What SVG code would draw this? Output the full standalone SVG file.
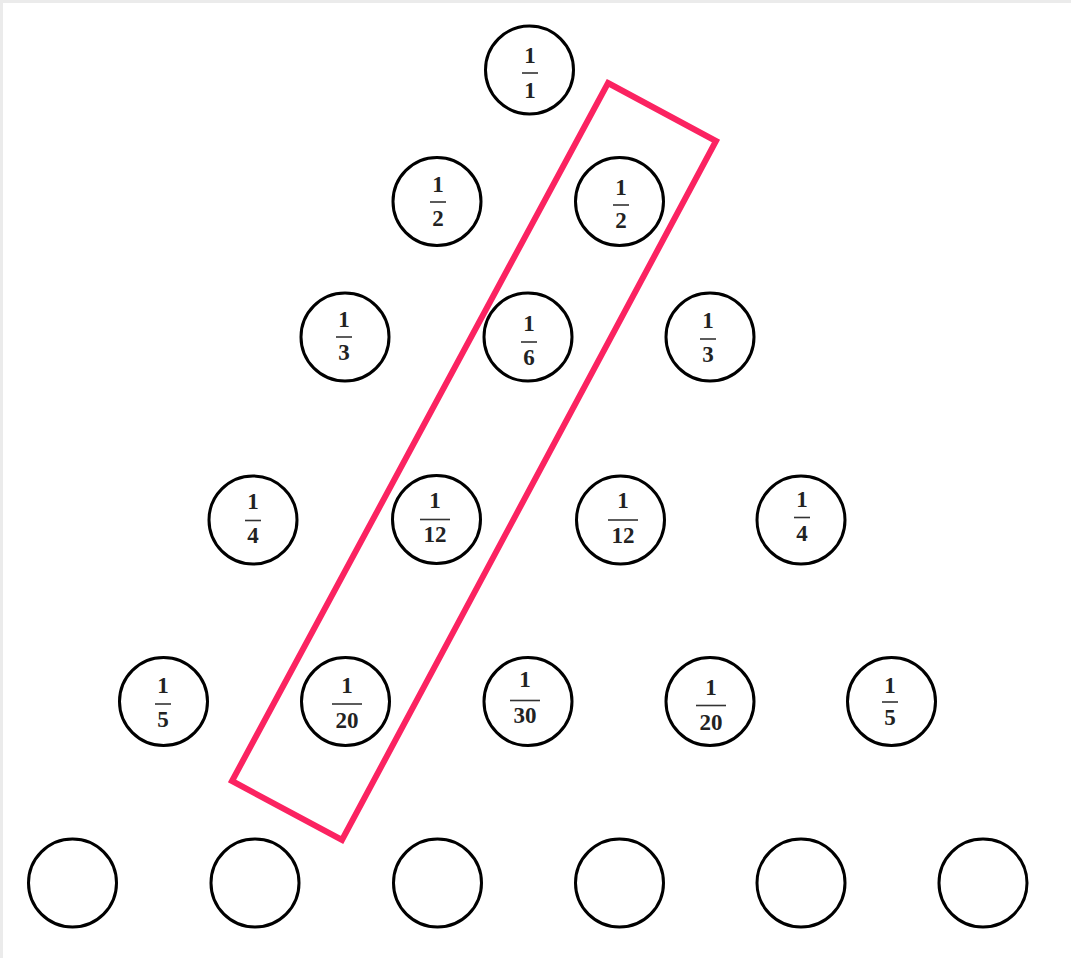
<svg xmlns="http://www.w3.org/2000/svg" width="1071" height="958" viewBox="0 0 1071 958">
<style>
.c{fill:#fff;stroke:#000;stroke-width:3}
.t{font-family:"Liberation Serif","DejaVu Serif",serif;font-size:23px;font-weight:bold;fill:#222;text-anchor:middle}
.b{stroke:#333;stroke-width:1.6}
.hl{fill:none;stroke:#fb2361;stroke-width:6;stroke-linejoin:miter}
</style>
<rect x="0" y="0" width="1071" height="958" fill="#ebebeb"/>
<rect x="3" y="3" width="1068" height="955" fill="#fff"/>
<g id="row1">
<g id="n11"><circle class="c" cx="529.5" cy="70" r="44"/><text class="t" x="530" y="63">1</text><line class="b" x1="522" y1="73" x2="538" y2="73"/><text class="t" x="530" y="98">1</text></g>
</g>
<g id="row2">
<g id="n21"><circle class="c" cx="437" cy="201.5" r="44"/><text class="t" x="438" y="192">1</text><line class="b" x1="430" y1="202" x2="446" y2="202"/><text class="t" x="438" y="226">2</text></g>
<g id="n22"><circle class="c" cx="619.5" cy="201.5" r="44"/><text class="t" x="621" y="195">1</text><line class="b" x1="613" y1="205" x2="629" y2="205"/><text class="t" x="621" y="228">2</text></g>
</g>
<g id="row3">
<g id="n31"><circle class="c" cx="345" cy="337" r="44"/><text class="t" x="344" y="327">1</text><line class="b" x1="336" y1="337" x2="352" y2="337"/><text class="t" x="344" y="360">3</text></g>
<g id="n32"><circle class="c" cx="528" cy="337" r="44"/><text class="t" x="529" y="331">1</text><line class="b" x1="521" y1="342" x2="537" y2="342"/><text class="t" x="529" y="365">6</text></g>
<g id="n33"><circle class="c" cx="710" cy="337" r="44"/><text class="t" x="708" y="328">1</text><line class="b" x1="700" y1="339" x2="716" y2="339"/><text class="t" x="708" y="362">3</text></g>
</g>
<g id="row4">
<g id="n41"><circle class="c" cx="253" cy="520" r="44"/><text class="t" x="253" y="509">1</text><line class="b" x1="245" y1="520.5" x2="261" y2="520.5"/><text class="t" x="253" y="543">4</text></g>
<g id="n42"><circle class="c" cx="436.5" cy="519.5" r="44"/><text class="t" x="435" y="508">1</text><line class="b" x1="420" y1="519.5" x2="450" y2="519.5"/><text class="t" x="435" y="542">12</text></g>
<g id="n43"><circle class="c" cx="620.5" cy="520" r="44"/><text class="t" x="623" y="508">1</text><line class="b" x1="608" y1="520" x2="638" y2="520"/><text class="t" x="623" y="543">12</text></g>
<g id="n44"><circle class="c" cx="801" cy="520" r="44"/><text class="t" x="802" y="507">1</text><line class="b" x1="794" y1="517.5" x2="810" y2="517.5"/><text class="t" x="802" y="541">4</text></g>
</g>
<g id="row5">
<g id="n51"><circle class="c" cx="163.5" cy="701.5" r="44"/><text class="t" x="163" y="693">1</text><line class="b" x1="155" y1="704" x2="171" y2="704"/><text class="t" x="163" y="727">5</text></g>
<g id="n52"><circle class="c" cx="345.5" cy="701.5" r="44"/><text class="t" x="347" y="693">1</text><line class="b" x1="332" y1="704" x2="362" y2="704"/><text class="t" x="347" y="728">20</text></g>
<g id="n53"><circle class="c" cx="528" cy="701.5" r="44"/><text class="t" x="525" y="687">1</text><line class="b" x1="510" y1="700.5" x2="540" y2="700.5"/><text class="t" x="525" y="723">30</text></g>
<g id="n54"><circle class="c" cx="710" cy="701.5" r="44"/><text class="t" x="711" y="695">1</text><line class="b" x1="696" y1="705.5" x2="726" y2="705.5"/><text class="t" x="711" y="730">20</text></g>
<g id="n55"><circle class="c" cx="891.5" cy="701.5" r="44"/><text class="t" x="890" y="693">1</text><line class="b" x1="882" y1="702" x2="898" y2="702"/><text class="t" x="890" y="725">5</text></g>
</g>
<g id="row6">
<g id="n61"><circle class="c" cx="72.5" cy="883" r="44"/></g>
<g id="n62"><circle class="c" cx="255" cy="883" r="44"/></g>
<g id="n63"><circle class="c" cx="437.5" cy="883" r="44"/></g>
<g id="n64"><circle class="c" cx="619.5" cy="883" r="44"/></g>
<g id="n65"><circle class="c" cx="801" cy="883" r="44"/></g>
<g id="n66"><circle class="c" cx="983" cy="883" r="44"/></g>
</g>
<g id="connectors">
<polygon id="highlight" class="hl" points="608,83 716,141 342,840 232,781"/>
</g>
</svg>
